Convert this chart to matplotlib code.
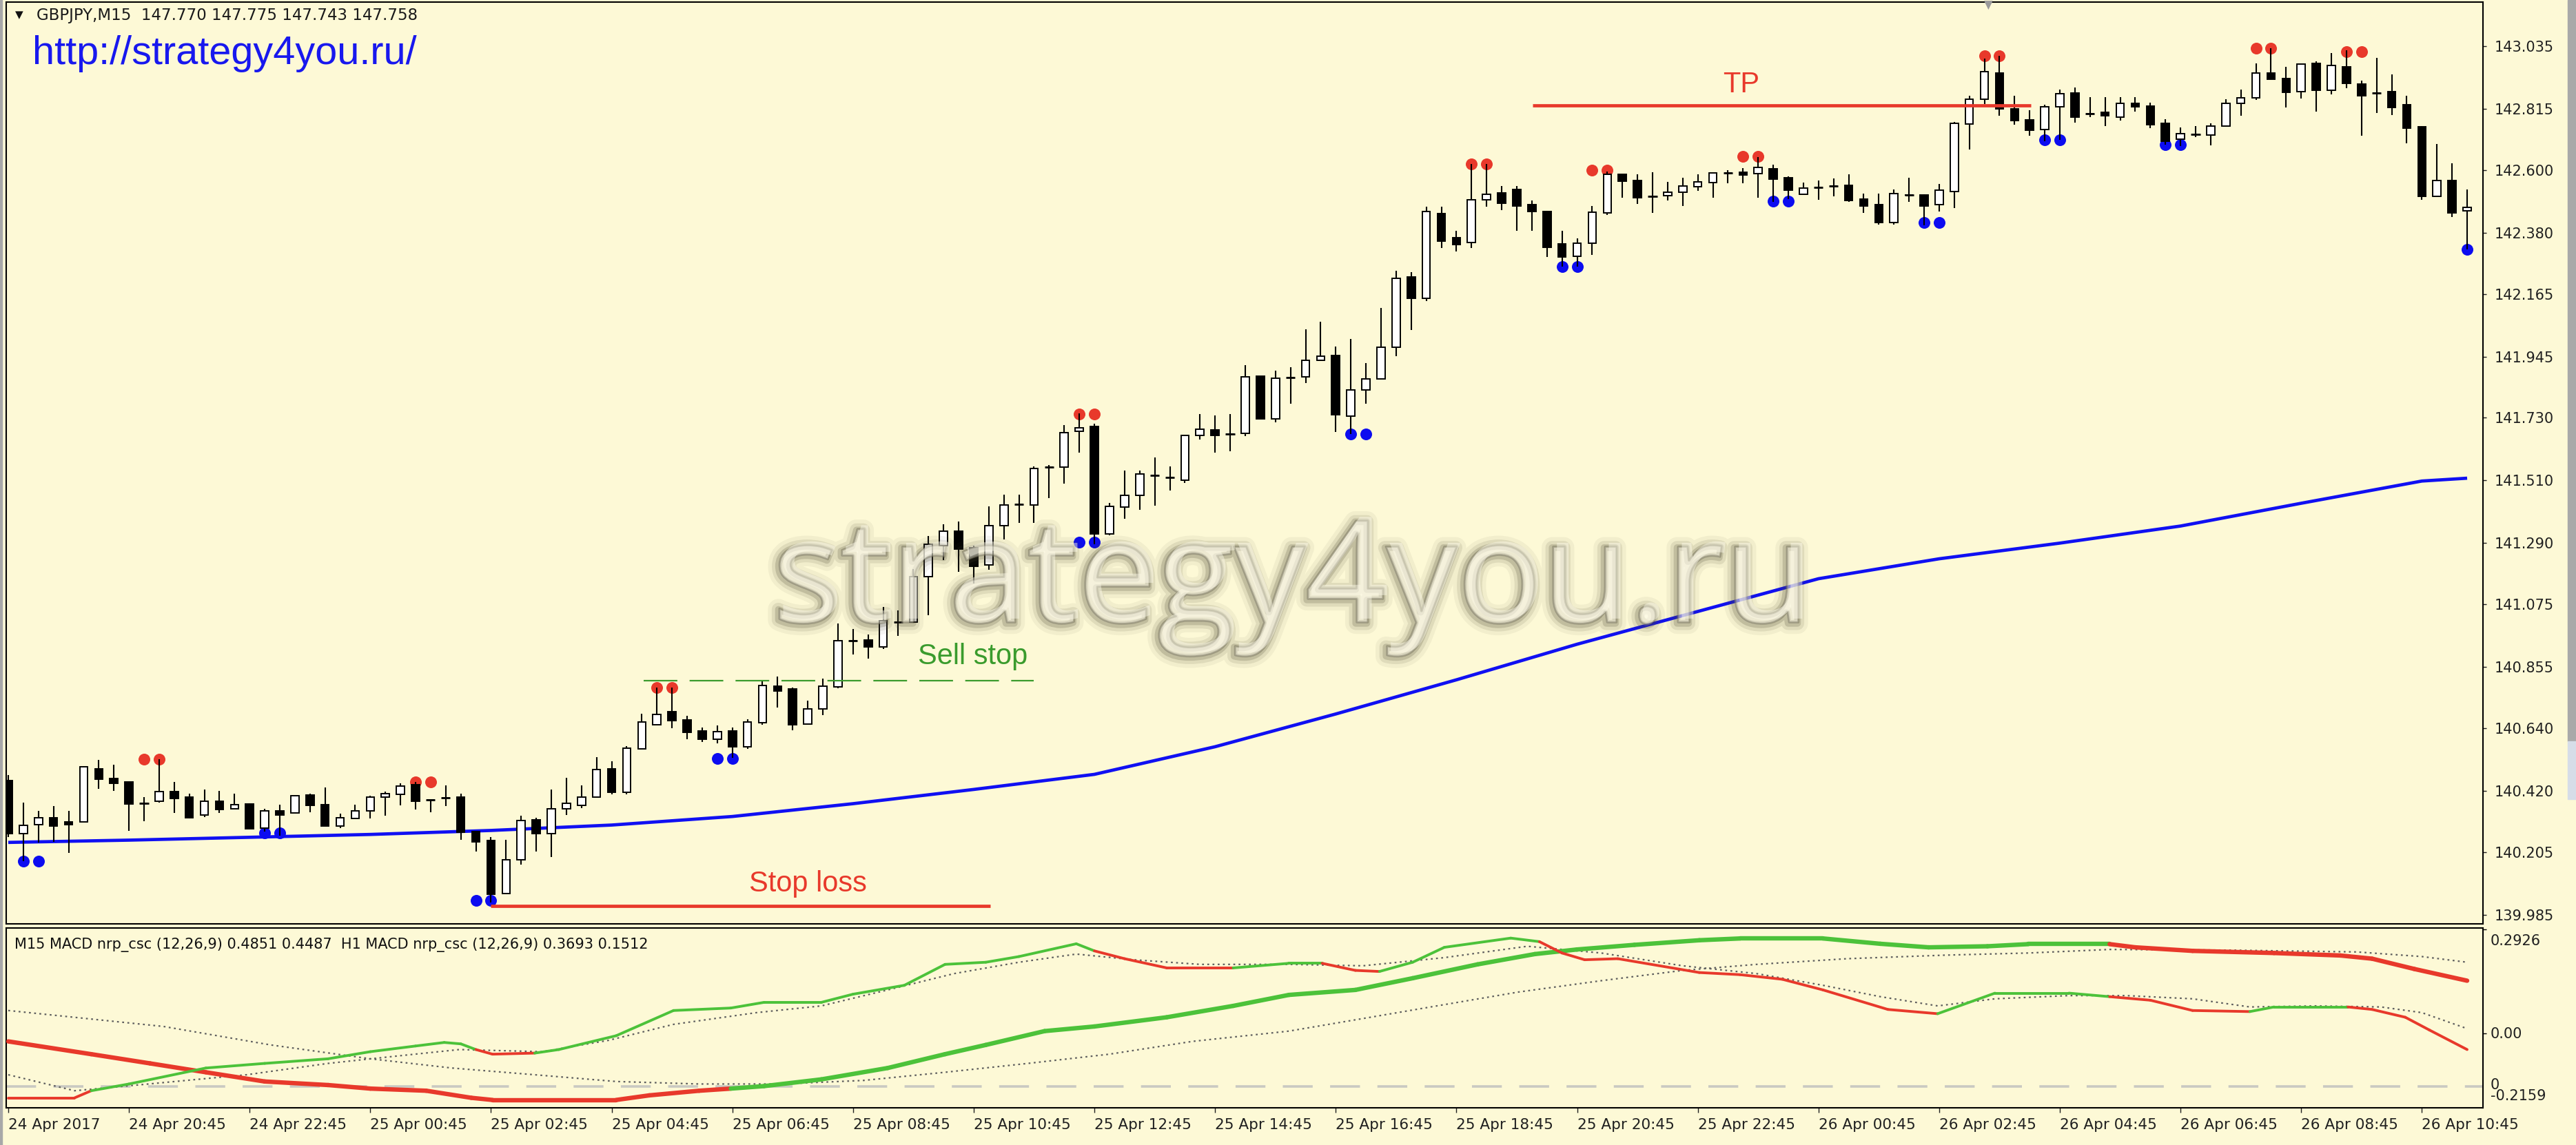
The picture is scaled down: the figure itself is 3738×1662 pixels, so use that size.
import numpy as np
import matplotlib.pyplot as plt
import matplotlib.patheffects as pe
from matplotlib.collections import LineCollection
from matplotlib.patches import Rectangle

W, H = 3738, 1662
BG = '#fdf9d6'
RED = '#e8392b'
GREEN = '#4cc23a'
BLUE = '#1010f2'

# GBPJPY M15, 24 Apr 18:45 -> 26 Apr 11:30 (one value per candle)
opens = [140.456, 140.270, 140.302, 140.325, 140.310, 140.310, 140.497, 140.463, 140.451, 140.376,
         140.383, 140.417, 140.397, 140.336, 140.384, 140.356, 140.373, 140.290, 140.350, 140.342,
         140.405, 140.371, 140.296, 140.322, 140.350, 140.397, 140.408, 140.441, 140.389, 140.395,
         140.399, 140.278, 140.246, 140.059, 140.177, 140.318, 140.270, 140.357, 140.368, 140.397,
         140.497, 140.415, 140.568, 140.653, 140.697, 140.669, 140.630, 140.602, 140.630, 140.575,
         140.659, 140.788, 140.778, 140.655, 140.708, 140.786, 140.947, 140.949, 140.925, 141.013,
         141.012, 141.172, 141.280, 141.333, 141.274, 141.214, 141.351, 141.427, 141.423, 141.556,
         141.556, 141.683, 141.699, 141.322, 141.417, 141.457, 141.528, 141.520, 141.511, 141.669,
         141.688, 141.672, 141.675, 141.876, 141.726, 141.871, 141.875, 141.933, 141.949, 141.736,
         141.828, 141.867, 141.979, 142.225, 142.150, 142.447, 142.362, 142.346, 142.495, 142.520,
         142.532, 142.479, 142.454, 142.341, 142.298, 142.344, 142.449, 142.584, 142.564, 142.508,
         142.510, 142.523, 142.542, 142.556, 142.591, 142.592, 142.588, 142.604, 142.572, 142.516,
         142.540, 142.544, 142.546, 142.497, 142.478, 142.416, 142.513, 142.512, 142.478, 142.524,
         142.762, 142.849, 142.941, 142.816, 142.776, 142.742, 142.822, 142.870, 142.798, 142.802,
         142.787, 142.834, 142.824, 142.763, 142.709, 142.725, 142.723, 142.755, 142.834, 142.854,
         142.941, 142.921, 142.875, 142.975, 142.881, 142.962, 142.903, 142.870, 142.876, 142.830,
         142.752, 142.508, 142.564, 142.457]
highs = [140.476, 140.379, 140.350, 140.367, 140.350, 140.508, 140.529, 140.512, 140.451, 140.397,
         140.532, 140.451, 140.411, 140.425, 140.419, 140.411, 140.376, 140.358, 140.371, 140.403,
         140.411, 140.432, 140.339, 140.371, 140.403, 140.417, 140.446, 140.451, 140.389, 140.439,
         140.411, 140.278, 140.258, 140.247, 140.334, 140.326, 140.425, 140.465, 140.439, 140.538,
         140.524, 140.576, 140.691, 140.782, 140.782, 140.683, 140.642, 140.650, 140.642, 140.672,
         140.809, 140.822, 140.784, 140.736, 140.814, 141.008, 140.988, 140.968, 141.067, 141.054,
         141.199, 141.315, 141.355, 141.367, 141.282, 141.419, 141.460, 141.460, 141.559, 141.564,
         141.705, 141.746, 141.709, 141.431, 141.546, 141.546, 141.591, 141.559, 141.669, 141.744,
         141.738, 141.744, 141.915, 141.876, 141.895, 141.908, 142.042, 142.068, 141.981, 142.007,
         141.923, 142.115, 142.247, 142.242, 142.471, 142.471, 142.387, 142.621, 142.621, 142.544,
         142.544, 142.494, 142.457, 142.387, 142.360, 142.473, 142.596, 142.584, 142.584, 142.592,
         142.558, 142.572, 142.586, 142.591, 142.599, 142.608, 142.645, 142.618, 142.578, 142.556,
         142.564, 142.570, 142.584, 142.518, 142.518, 142.532, 142.572, 142.516, 142.552, 142.770,
         142.862, 142.991, 143.001, 142.862, 142.810, 142.830, 142.883, 142.890, 142.857, 142.857,
         142.857, 142.857, 142.836, 142.778, 142.749, 142.755, 142.763, 142.849, 142.883, 142.975,
         143.028, 142.962, 142.973, 142.981, 143.010, 143.020, 142.915, 142.995, 142.935, 142.862,
         142.755, 142.691, 142.624, 142.532]
lows = [140.258, 140.173, 140.238, 140.242, 140.201, 140.310, 140.427, 140.419, 140.279, 140.314,
        140.379, 140.342, 140.322, 140.328, 140.342, 140.356, 140.287, 140.278, 140.262, 140.342,
        140.346, 140.296, 140.290, 140.322, 140.322, 140.334, 140.368, 140.354, 140.346, 140.367,
        140.247, 140.207, 140.028, 140.059, 140.161, 140.207, 140.188, 140.336, 140.360, 140.397,
        140.407, 140.407, 140.568, 140.653, 140.641, 140.601, 140.592, 140.586, 140.536, 140.568,
        140.653, 140.712, 140.633, 140.655, 140.685, 140.780, 140.899, 140.884, 140.919, 140.965,
        141.012, 141.036, 141.230, 141.189, 141.149, 141.197, 141.302, 141.360, 141.360, 141.447,
        141.500, 141.607, 141.286, 141.317, 141.375, 141.407, 141.421, 141.475, 141.502, 141.653,
        141.607, 141.613, 141.666, 141.726, 141.714, 141.780, 141.852, 141.933, 141.680, 141.672,
        141.780, 141.867, 141.946, 142.038, 142.140, 142.326, 142.314, 142.326, 142.471, 142.459,
        142.387, 142.387, 142.295, 142.262, 142.262, 142.302, 142.443, 142.502, 142.481, 142.449,
        142.494, 142.475, 142.528, 142.502, 142.554, 142.554, 142.502, 142.489, 142.497, 142.516,
        142.495, 142.508, 142.489, 142.449, 142.408, 142.408, 142.488, 142.407, 142.455, 142.467,
        142.673, 142.832, 142.792, 142.760, 142.720, 142.701, 142.705, 142.766, 142.787, 142.754,
        142.774, 142.806, 142.747, 142.689, 142.685, 142.715, 142.687, 142.755, 142.792, 142.846,
        142.919, 142.820, 142.852, 142.806, 142.865, 142.887, 142.720, 142.800, 142.794, 142.693,
        142.495, 142.508, 142.435, 142.322]
closes = [140.270, 140.299, 140.325, 140.296, 140.302, 140.504, 140.462, 140.447, 140.375, 140.376,
          140.417, 140.393, 140.326, 140.383, 140.354, 140.371, 140.287, 140.350, 140.336, 140.403,
          140.368, 140.296, 140.325, 140.350, 140.399, 140.411, 140.437, 140.383, 140.389, 140.395,
          140.274, 140.242, 140.056, 140.177, 140.316, 140.270, 140.357, 140.376, 140.397, 140.496,
          140.415, 140.570, 140.661, 140.689, 140.666, 140.626, 140.601, 140.629, 140.575, 140.661,
          140.790, 140.771, 140.653, 140.709, 140.788, 140.947, 140.947, 140.925, 141.018, 141.013,
          141.172, 141.286, 141.333, 141.270, 141.209, 141.352, 141.425, 141.427, 141.552, 141.556,
          141.677, 141.695, 141.322, 141.419, 141.457, 141.532, 141.528, 141.520, 141.669, 141.690,
          141.669, 141.672, 141.875, 141.726, 141.868, 141.871, 141.933, 141.947, 141.742, 141.828,
          141.867, 141.979, 142.220, 142.150, 142.454, 142.350, 142.338, 142.495, 142.515, 142.483,
          142.475, 142.455, 142.328, 142.295, 142.344, 142.451, 142.584, 142.562, 142.502, 142.508,
          142.523, 142.544, 142.558, 142.591, 142.591, 142.583, 142.610, 142.568, 142.529, 142.536,
          142.540, 142.544, 142.494, 142.475, 142.415, 142.517, 142.513, 142.475, 142.529, 142.763,
          142.849, 142.945, 142.814, 142.774, 142.739, 142.822, 142.868, 142.786, 142.798, 142.790,
          142.834, 142.822, 142.760, 142.701, 142.728, 142.725, 142.755, 142.834, 142.854, 142.941,
          142.919, 142.873, 142.973, 142.881, 142.967, 142.905, 142.860, 142.870, 142.820, 142.747,
          142.508, 142.564, 142.449, 142.470]

# moving average (blue), read at every 8th candle
ma_idx = [0, 8, 16, 24, 32, 40, 48, 56, 64, 72, 80, 88, 96, 104, 112, 120, 128, 136, 144, 152, 160, 163]
ma_val = [140.239, 140.247, 140.257, 140.267, 140.281, 140.300, 140.330, 140.375, 140.425, 140.478, 140.575,
          140.690, 140.810, 140.935, 141.050, 141.165, 141.235, 141.290, 141.350, 141.430, 141.508, 141.518]

# fractal dots: first candle of each pair and its price
red_pair_idx = [9, 27, 43, 71, 97, 105, 115, 131, 149, 155]
red_pair_val = [140.532, 140.451, 140.782, 141.744, 142.621, 142.600, 142.649, 143.001, 143.029, 143.017]
blue_pair_idx = [1, 17, 31, 47, 71, 89, 103, 117, 127, 135, 143]
blue_pair_val = [140.173, 140.272, 140.036, 140.534, 141.294, 141.673, 142.261, 142.491, 142.415, 142.705, 142.689]
blue_single_idx = [163]
blue_single_val = [142.322]

# MACD window
h1_idx = [0, 5.5, 9.4, 13.1, 17, 21.2, 24, 27.7, 30.7, 32.1, 40.3, 42.5, 45.8, 47.9, 50.1, 53.9, 58.3, 62.1,
          64.8, 68.7, 72, 76.8, 81.2, 84.9, 89.3, 93.1, 97.4, 101.2, 104, 107.8, 112.1, 114.8, 120.3, 124.1,
          127.3, 131.2, 133.9, 139.3, 141, 144.8, 150.2, 154.6, 156.7, 159.5, 163]
h1_val = [-0.023, -0.059, -0.085, -0.110, -0.136, -0.146, -0.156, -0.162, -0.182, -0.188, -0.188, -0.175,
          -0.162, -0.156, -0.149, -0.130, -0.098, -0.059, -0.033, 0.006, 0.019, 0.045, 0.077, 0.108, 0.122,
          0.155, 0.194, 0.223, 0.236, 0.249, 0.262, 0.267, 0.267, 0.252, 0.242, 0.245, 0.251, 0.251, 0.242,
          0.232, 0.226, 0.219, 0.210, 0.181, 0.148]
h1_switch = [48, 140]
m15_idx = [0, 4.4, 5.5, 8, 13.1, 17, 21.2, 24, 27, 28.9, 30, 31, 32.1, 34.9, 36.5, 40.3, 44.1, 47.9, 50.1,
           53.9, 56, 59.4, 62.1, 64.8, 67, 70.8, 72, 74, 76.8, 81.2, 84.9, 87.1, 89.3, 90.9, 93.1, 95.2,
           99.6, 101.5, 103, 104.5, 106.7, 112.1, 114.8, 117.6, 120.3, 124.6, 127.9, 131.7, 136.6, 139.3,
           142, 144.8, 148.6, 150.2, 155.1, 156.7, 158.9, 160.5, 163]
m15_val = [-0.182, -0.182, -0.162, -0.143, -0.098, -0.085, -0.072, -0.052, -0.036, -0.026, -0.030, -0.046,
           -0.059, -0.056, -0.046, -0.007, 0.064, 0.071, 0.087, 0.087, 0.110, 0.135, 0.194, 0.200, 0.216,
           0.252, 0.232, 0.210, 0.184, 0.184, 0.197, 0.197, 0.177, 0.174, 0.200, 0.242, 0.268, 0.258, 0.226,
           0.207, 0.210, 0.171, 0.165, 0.152, 0.122, 0.067, 0.055, 0.113, 0.113, 0.103, 0.093, 0.064, 0.061,
           0.074, 0.074, 0.067, 0.045, 0.009, -0.046]
m15_switch = [5, 30.5, 35.5, 72, 81, 87, 91.4, 100.7, 128.4, 138.2, 149, 155]
sig_h1_idx = [0, 10.3, 17.4, 24, 29.4, 34.9, 40.3, 45.8, 51.2, 56.7, 62.1, 67.6, 73, 78.5, 84.9, 90.3, 94.7,
              100.1, 105.6, 111, 115.9, 121.9, 128.4, 133.9, 139.3, 147.5, 155.7, 160, 163]
sig_h1_val = [0.064, 0.019, -0.033, -0.072, -0.098, -0.117, -0.136, -0.143, -0.143, -0.133, -0.110, -0.085,
              -0.059, -0.023, 0.006, 0.045, 0.077, 0.116, 0.148, 0.177, 0.194, 0.210, 0.220, 0.226, 0.236,
              0.234, 0.229, 0.216, 0.200]
sig_m15_idx = [0, 4.4, 9.3, 15.8, 21.2, 25.6, 29.9, 35.4, 39.8, 44.1, 49.6, 53.9, 58.3, 62.7, 67, 70.8, 74.6,
               79, 84.9, 89.8, 95.2, 100.7, 105.6, 111, 115.9, 120.3, 124.1, 127.9, 131.7, 136.6, 140.4,
               144.8, 148.6, 152.9, 157.3, 160, 163]
sig_m15_val = [-0.117, -0.162, -0.143, -0.117, -0.085, -0.065, -0.046, -0.052, -0.020, 0.025, 0.058, 0.077,
               0.122, 0.168, 0.200, 0.223, 0.207, 0.194, 0.194, 0.190, 0.213, 0.245, 0.226, 0.190, 0.168,
               0.135, 0.103, 0.077, 0.097, 0.106, 0.106, 0.097, 0.074, 0.077, 0.074, 0.058, 0.013]
macd_zero2 = -0.149

time_labels = ["24 Apr 2017", "24 Apr 20:45", "24 Apr 22:45", "25 Apr 00:45", "25 Apr 02:45",
               "25 Apr 04:45", "25 Apr 06:45", "25 Apr 08:45", "25 Apr 10:45", "25 Apr 12:45",
               "25 Apr 14:45", "25 Apr 16:45", "25 Apr 18:45", "25 Apr 20:45", "25 Apr 22:45",
               "26 Apr 00:45", "26 Apr 02:45", "26 Apr 04:45", "26 Apr 06:45", "26 Apr 08:45",
               "26 Apr 10:45"]
price_ticks = [143.035, 142.815, 142.600, 142.380, 142.165, 141.945, 141.730, 141.510,
               141.290, 141.075, 140.855, 140.640, 140.420, 140.205, 139.985]


def fx(px):
    return px / W


def fy(py):
    return 1 - py / H


fig = plt.figure(figsize=(W / 100, H / 100), dpi=100, facecolor=BG)
ax = fig.add_axes([fx(9), fy(1341), (3603 - 9) / W, (1341 - 3) / H], facecolor=BG)
ax2 = fig.add_axes([fx(9), fy(1608), (3603 - 9) / W, (1608 - 1347) / H], facecolor=BG)

# candles
o = np.array(opens); h = np.array(highs); l = np.array(lows); c = np.array(closes)
idx = np.arange(len(o))
up = c >= o
ax.vlines(idx, l, h, color='black', lw=1.5, zorder=3)
ax.bar(idx, np.abs(c - o), 0.53, bottom=np.minimum(o, c),
       color=np.where(up, 'white', 'black'), edgecolor='black', linewidth=1.4, zorder=4)
doji = np.abs(c - o) < 0.0005
ax.hlines(o[doji], idx[doji] - 0.3, idx[doji] + 0.3, color='black', lw=2, zorder=4)

# moving average
ax.plot(ma_idx, ma_val, color=BLUE, lw=3.4, zorder=2.5, solid_capstyle='butt')

# fractal dots
rx = np.concatenate([np.array(red_pair_idx), np.array(red_pair_idx) + 1])
ry = np.concatenate([red_pair_val, red_pair_val])
bx = np.concatenate([np.array(blue_pair_idx), np.array(blue_pair_idx) + 1, blue_single_idx])
by = np.concatenate([blue_pair_val, blue_pair_val, blue_single_val])
ax.scatter(rx, ry, s=150, color=RED, zorder=2.8, linewidths=0)
ax.scatter(bx, by, s=150, color='#0c0cf0', zorder=2.8, linewidths=0)

# trade levels
ax.plot([101.05, 134.1], [142.826, 142.826], color=RED, lw=3.4, solid_capstyle='butt', zorder=5)
ax.text(114.9, 142.873, 'TP', color=RED, fontsize=30, family='Liberation Sans', ha='center', va='baseline', zorder=5)
ax.plot([31.98, 65.1], [140.016, 140.016], color=RED, lw=3.4, solid_capstyle='butt', zorder=5)
ax.text(53.0, 140.067, 'Stop loss', color=RED, fontsize=30, family='Liberation Sans', ha='center', va='baseline', zorder=5)
ax.plot([42.1, 67.98], [140.807, 140.807], color='#3a9b2d', lw=1.6, dashes=(22, 8), zorder=5)
ax.text(60.3, 140.866, 'Sell stop', color='#3a9b2d', fontsize=30, family='Liberation Sans', ha='left', va='baseline', zorder=7)

# watermark
wm = ax.text(50.9, 141.025, 'strategy4you.ru', fontsize=150, family='Open Sans',
             color=(1.0, 0.99, 0.92, 0.45), ha='left', va='baseline', zorder=6)
r = fig.canvas.get_renderer()
wm.set_fontsize(wm.get_fontsize() * 1507 / wm.get_window_extent(r).width)
wm.set_path_effects([
    pe.Stroke(offset=(-5, -5), linewidth=22, foreground='#4a4630', alpha=0.06),
    pe.Stroke(offset=(-5, -5), linewidth=14, foreground='#4a4630', alpha=0.11),
    pe.Stroke(offset=(-5, -5), linewidth=7, foreground='#4a4630', alpha=0.2),
    pe.Stroke(offset=(-4, -4), linewidth=2, foreground='#3e3a26', alpha=0.3),
    pe.Normal()])

ax.set_xlim(-0.137, 164.05)
ax.set_ylim(139.953, 143.190)
ax.set_xticks([])
ax.yaxis.tick_right()
ax.set_yticks(price_ticks)
ax.set_yticklabels(['%.3f' % v for v in price_ticks])
ax.tick_params(axis='y', direction='out', length=3.6, width=1, pad=8.5, labelsize=15, colors='#202020')


# MACD panel
def colored_line(axis, xs, ys, switches, lw):
    xs = np.asarray(xs, float); ys = np.asarray(ys, float)
    pts = np.column_stack([xs, ys])
    segs = np.stack([pts[:-1], pts[1:]], axis=1)
    mids = (xs[:-1] + xs[1:]) / 2
    k = np.searchsorted(switches, mids)
    cols = [RED if n % 2 == 0 else GREEN for n in k]
    axis.add_collection(LineCollection(segs, colors=cols, linewidths=lw, capstyle='round', zorder=3))


ax2.axhline(macd_zero2, color='#c9c9c2', lw=2.6, dashes=(12, 7), zorder=1)
ax2.plot(sig_h1_idx, sig_h1_val, color='#5e5e5e', lw=1.6, ls=(0, (1.2, 2.2)), zorder=2)
ax2.plot(sig_m15_idx, sig_m15_val, color='#5e5e5e', lw=1.6, ls=(0, (1.2, 2.2)), zorder=2)
colored_line(ax2, h1_idx, h1_val, h1_switch, 4.6)
colored_line(ax2, m15_idx, m15_val, m15_switch, 2.8)
ax2.set_xlim(-0.137, 164.05)
ax2.set_ylim(-0.2101, 0.2965)
ax2.yaxis.tick_right()
ax2.set_yticks([0.2926, 0.0])
ax2.set_yticklabels([])
ax2.tick_params(axis='y', direction='out', length=3.6, width=1)
ax2.set_xticks(np.arange(0, 161, 8))
ax2.set_xticklabels(time_labels, ha='left')
ax2.tick_params(axis='x', direction='out', length=5, width=1, pad=5.5, labelsize=15.5, colors='#202020')

for a in (ax, ax2):
    for s in a.spines.values():
        s.set_linewidth(1.5)
        s.set_color('black')

# MACD scale labels
for txt, py in [('0.2926', 1366), ('0.00', 1501), ('0', 1575), ('-0.2159', 1591)]:
    fig.text(fx(3614), fy(py), txt, fontsize=15, color='#202020', va='center', ha='left')

fig.text(fx(21), fy(1372), 'M15 MACD nrp_csc (12,26,9) 0.4851 0.4487  H1 MACD nrp_csc (12,26,9) 0.3693 0.1512',
         fontsize=15, color='#111111', va='center', ha='left')

# header
fig.text(fx(22), fy(22), '\u25bc', fontsize=11, color='#111111', va='center', ha='left')
fig.text(fx(53), fy(22), 'GBPJPY,M15  147.770 147.775 147.743 147.758', fontsize=16.5,
         color='#1a1a1a', va='center', ha='left')
fig.text(fx(47), fy(78), 'http://strategy4you.ru/', fontsize=41.5, family='Liberation Sans',
         color='#1818ee', va='center', ha='left')
# chart shift marker at the top edge
fig.text(fx(2885), fy(8), '\u25bc', fontsize=12, color='#9a9a9a', va='center', ha='center')

# window chrome
fig.patches.append(Rectangle((0, 0), fx(3), 1, transform=fig.transFigure, color='#a8a8a8'))
fig.patches.append(Rectangle((fx(3726), fy(1076)), fx(12), 1076 / H, transform=fig.transFigure, color='#a9a9a9'))
fig.patches.append(Rectangle((fx(3726), fy(1160)), fx(12), 84 / H, transform=fig.transFigure, color='#d6dde8'))

fig.savefig('out.png', dpi=100, facecolor=BG)
